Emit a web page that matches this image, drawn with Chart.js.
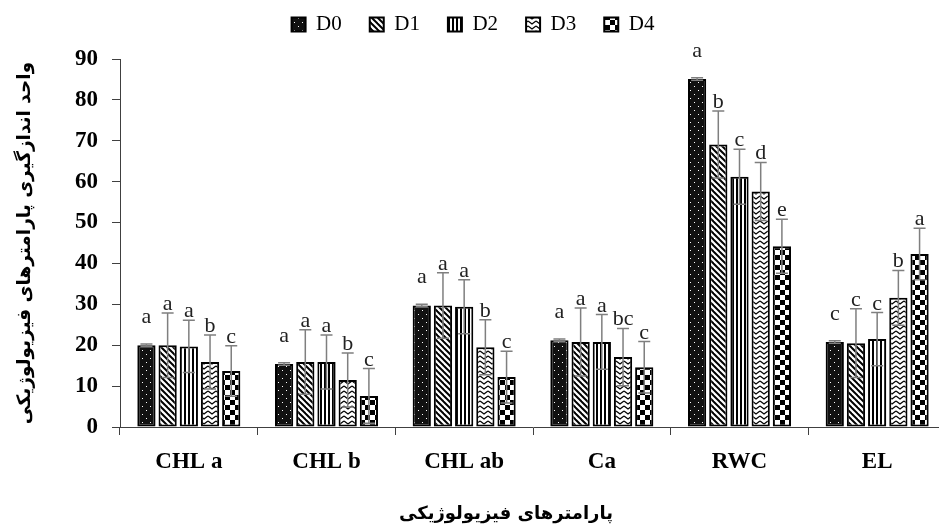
<!DOCTYPE html>
<html>
<head>
<meta charset="utf-8">
<script src="https://cdn.jsdelivr.net/npm/chart.js@4.4.1/dist/chart.umd.min.js"></script>
<style>
html, body { margin: 0; padding: 0; background: #fff; overflow: hidden; }
#wrap { position: relative; width: 946px; height: 532px; }
</style>
</head>
<body>
<div id="wrap"><canvas id="chart1"></canvas></div>
<script>
const categories = ["CHL a", "CHL b", "CHL ab", "Ca", "RWC", "EL"];
const seriesNames = ["D0", "D1", "D2", "D3", "D4"];

const valuesD0 = [20.0, 15.4, 29.7, 21.2, 85.1, 20.8];
const valuesD1 = [20.0, 15.9, 29.7, 20.8, 69.1, 20.5];
const valuesD2 = [19.7, 15.9, 29.4, 20.8, 61.2, 21.5];
const valuesD3 = [15.9, 11.5, 19.5, 17.1, 57.6, 31.6];
const valuesD4 = [13.7, 7.6, 12.2, 14.6, 44.2, 42.3];

const errorsD0 = [0.3, 0.3, 0.3, 0.3, 0.3, 0.3];
const errorsD1 = [7.9, 7.9, 8.0, 8.3, 8.2, 8.4];
const errorsD2 = [6.4, 6.6, 6.6, 6.7, 6.7, 6.5];
const errorsD3 = [6.6, 6.6, 6.7, 7.0, 7.1, 6.7];
const errorsD4 = [6.2, 6.7, 6.3, 6.3, 6.6, 6.3];

const lettersD0 = ["a", "a", "a", "a", "a", "c"];
const lettersD1 = ["a", "a", "a", "a", "b", "c"];
const lettersD2 = ["a", "a", "a", "a", "c", "c"];
const lettersD3 = ["b", "b", "b", "bc", "d", "b"];
const lettersD4 = ["c", "c", "c", "c", "e", "a"];

const yTicks = [0, 10, 20, 30, 40, 50, 60, 70, 80, 90];

const yTitle = "واحد اندازگیری پارامترهای فیزیولوژیکی";
const xTitle = "پارامترهای فیزیولوژیکی";

// hatch fills like the excel patterns
function makePattern(kind) {
    const c = document.createElement("canvas");
    const g = c.getContext("2d");
    if (kind === 0) {
        c.width = 8; c.height = 8;
        g.fillStyle = "#111"; g.fillRect(0, 0, 8, 8);
        g.fillStyle = "#fff";
        g.fillRect(2, 2, 1, 1);
        g.fillRect(6, 6, 1, 1);
    } else if (kind === 1) {
        c.width = 6; c.height = 6;
        g.fillStyle = "#fff"; g.fillRect(0, 0, 6, 6);
        g.strokeStyle = "#000"; g.lineWidth = 2;
        for (const o of [-6, 0, 6]) {
            g.beginPath(); g.moveTo(o - 1, -1); g.lineTo(o + 7, 7); g.stroke();
        }
    } else if (kind === 2) {
        c.width = 4; c.height = 4;
        g.fillStyle = "#fff"; g.fillRect(0, 0, 4, 4);
        g.fillStyle = "#000"; g.fillRect(0, 0, 2, 4);
    } else if (kind === 3) {
        c.width = 8; c.height = 5;
        g.fillStyle = "#fff"; g.fillRect(0, 0, 8, 5);
        g.strokeStyle = "#000"; g.lineWidth = 1.3;
        g.beginPath(); g.moveTo(0, 1); g.lineTo(4, 4); g.lineTo(8, 1); g.stroke();
    } else {
        c.width = 10; c.height = 10;
        g.fillStyle = "#fff"; g.fillRect(0, 0, 10, 10);
        g.fillStyle = "#000";
        g.fillRect(0, 0, 5, 5); g.fillRect(5, 5, 5, 5);
    }
    return g.createPattern(c, "repeat");
}

const allValues = [valuesD0, valuesD1, valuesD2, valuesD3, valuesD4];
const allErrors = [errorsD0, errorsD1, errorsD2, errorsD3, errorsD4];
const allLetters = [lettersD0, lettersD1, lettersD2, lettersD3, lettersD4];
const letterLift = [18, 0, 0, 0, 0];

const datasets = seriesNames.map((name, i) => ({
    label: name,
    data: allValues[i],
    errors: allErrors[i],
    letters: allLetters[i],
    backgroundColor: makePattern(i),
    borderColor: "#000",
    borderWidth: 2,
    borderSkipped: false,
    categoryPercentage: 0.77,
    barPercentage: 0.86
}));

const errorBars = {
    id: "errorBars",
    afterLayout(chart) {
        // legend sits higher than its padding would put it
        chart.legend.top -= 14;
        chart.legend.bottom -= 14;
    },
    afterDatasetsDraw(chart) {
        const ctx = chart.ctx;
        const y = chart.scales.y;
        ctx.save();
        chart.data.datasets.forEach((ds, i) => {
            const meta = chart.getDatasetMeta(i);
            meta.data.forEach((bar, j) => {
                const v = ds.data[j], e = ds.errors[j];
                const top = y.getPixelForValue(v + e);
                const bot = y.getPixelForValue(v - e);
                ctx.strokeStyle = "#7f7f7f";
                ctx.lineWidth = 1.5;
                ctx.beginPath();
                ctx.moveTo(bar.x, top); ctx.lineTo(bar.x, bot);
                ctx.moveTo(bar.x - 6, top); ctx.lineTo(bar.x + 6, top);
                ctx.moveTo(bar.x - 6, bot); ctx.lineTo(bar.x + 6, bot);
                ctx.stroke();
                ctx.fillStyle = "#222";
                ctx.font = "22px 'Liberation Serif'";
                ctx.textAlign = "center";
                ctx.textBaseline = "alphabetic";
                ctx.fillText(ds.letters[j], bar.x, top - 3 - letterLift[i]);
            });
        });
        ctx.restore();
    },
    afterDraw(chart) {
        const ctx = chart.ctx;
        ctx.save();
        ctx.fillStyle = "#000";
        ctx.font = "bold 18px 'DejaVu Sans'";
        ctx.textAlign = "center";
        ctx.textBaseline = "middle";
        ctx.fillText(xTitle, 506, 514);
        ctx.restore();
    }
};

new Chart("chart1", {
    type: "bar",
    data: {
        labels: categories,
        datasets: datasets
    },
    options: {
        responsive: true,
        maintainAspectRatio: false,
        animation: false,
        layout: { padding: 0 },
        plugins: {
            legend: {
                position: "top",
                labels: {
                    boxWidth: 14,
                    boxHeight: 14,
                    padding: 28,
                    color: "#000",
                    font: { family: "'Liberation Serif'", size: 21 }
                }
            },
            tooltip: { enabled: false }
        },
        scales: {
            x: {
                grid: { display: true, offset: true, drawOnChartArea: false, drawTicks: true, tickLength: 8, color: "#404040" },
                border: { color: "#404040", width: 1 },
                ticks: { color: "#000", padding: 13, font: { family: "'Liberation Serif'", size: 23, weight: "bold" } },
                afterFit(scale) { scale.height = 105; }
            },
            y: {
                min: 0,
                max: 90,
                afterBuildTicks(scale) { scale.ticks = yTicks.map(v => ({ value: v })); },
                grid: { display: true, drawOnChartArea: false, drawTicks: true, tickLength: 8, color: "#404040" },
                border: { color: "#404040", width: 1 },
                ticks: { color: "#000", padding: 14, font: { family: "'Liberation Serif'", size: 23, weight: "bold" } },
                title: { display: true, text: yTitle, color: "#000", padding: { top: 14, bottom: 0 }, font: { family: "'DejaVu Sans'", size: 18.5, weight: "bold" } },
                afterFit(scale) { scale.width = 120; }
            }
        }
    },
    plugins: [errorBars]
});
</script>
</body>
</html>
